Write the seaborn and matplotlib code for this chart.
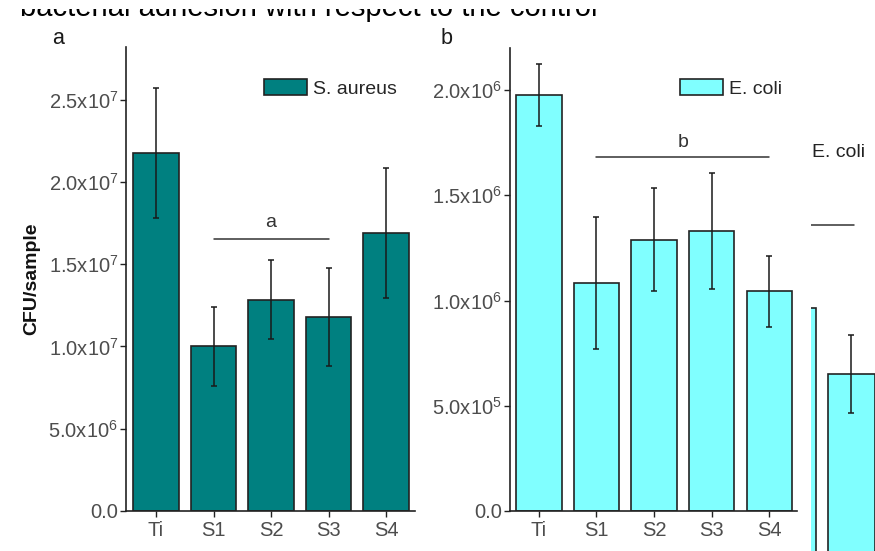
import matplotlib
matplotlib.use("Agg")
import matplotlib.pyplot as plt
from matplotlib.patches import Patch, Rectangle
import pandas as pd
import seaborn as sns

sns.set_theme(style="ticks")
plt.rcParams["font.family"] = ["Liberation Sans", "DejaVu Sans"]
plt.rcParams["mathtext.fontset"] = "custom"
plt.rcParams["mathtext.rm"] = "Liberation Sans"
plt.rcParams["mathtext.it"] = "Liberation Sans:italic"

# --- data ---
categories = ["Ti", "S1", "S2", "S3", "S4"]
aureus_mean = [2.175e7, 1.0e7, 1.284e7, 1.179e7, 1.691e7]
aureus_sd = [3.95e6, 2.4e6, 2.4e6, 2.95e6, 3.96e6]
ecoli_mean = [1.976e6, 1.084e6, 1.290e6, 1.329e6, 1.044e6]
ecoli_sd = [0.147e6, 0.313e6, 0.245e6, 0.276e6, 0.169e6]

# partial third panel cut off at the right edge
c_categories = ["Ti", "S1"]
c_mean = [1.286e6, 0.996e6]
c_sd = [0.15e6, 0.172e6]

a_ticks = [0, 5e6, 1e7, 1.5e7, 2e7, 2.5e7]
a_ticklabels = ["0.0", r"5.0x10$^6$", r"1.0x10$^7$", r"1.5x10$^7$", r"2.0x10$^7$", r"2.5x10$^7$"]
b_ticks = [0, 5e5, 1e6, 1.5e6, 2e6]
b_ticklabels = ["0.0", r"5.0x10$^5$", r"1.0x10$^6$", r"1.5x10$^6$", r"2.0x10$^6$"]

TEAL = "#008080"
CYAN = "#80FFFF"
EDGE = "#222222"
TICK_COL = "#4D4D4D"

fig = plt.figure(figsize=(8.75, 5.51), dpi=100)


def px_axes(x0, x1, y_top, y_bot):
    return fig.add_axes([x0 / 875, 1 - y_bot / 551, (x1 - x0) / 875, (y_bot - y_top) / 551])


def draw_panel(ax, mean, sd, color, ticks, ticklabels, ylim, xlim):
    df = pd.DataFrame({"sample": categories, "cfu": mean})
    sns.barplot(data=df, x="sample", y="cfu", color=color, saturation=1,
                edgecolor=EDGE, linewidth=1.2, width=0.79, ax=ax)
    ax.errorbar(x=range(len(categories)), y=mean, yerr=sd, fmt="none",
                ecolor="#1a1a1a", elinewidth=1.1, capsize=2.5, capthick=1.1)
    ax.set_ylim(*ylim)
    ax.set_xlim(*xlim)
    ax.set_yticks(ticks)
    ax.set_yticklabels(ticklabels)
    ax.set_xlabel("")
    ax.set_ylabel("")
    ax.tick_params(axis="y", labelsize=14.5, colors="#222222", labelcolor=TICK_COL,
                   length=4, width=1, direction="out", pad=1.5)
    ax.tick_params(axis="x", labelsize=14.5, colors="#222222", labelcolor=TICK_COL,
                   length=4, width=1, direction="out")
    sns.despine(ax=ax)
    for s in ["left", "bottom"]:
        ax.spines[s].set_color("#222222")
        ax.spines[s].set_linewidth(1.2)
    return Patch(facecolor=color, edgecolor=EDGE, linewidth=1.2)


# --- a: S. aureus ---
ax_a = px_axes(126, 415, 47, 511)
h_a = draw_panel(ax_a, aureus_mean, aureus_sd, TEAL, a_ticks, a_ticklabels,
                 (0, 2.82e7), (-0.52, 4.5))
ax_a.legend([h_a], ["S. aureus"], loc="upper left", bbox_to_anchor=(0.4775, 0.931),
            frameon=False, fontsize=14, handlelength=2.2, handleheight=0.9,
            borderpad=0, borderaxespad=0, handletextpad=0.3)
ax_a.plot([1, 3], [1.655e7, 1.655e7], color="#333333", lw=1.1)
ax_a.text(2, 1.725e7, "a", ha="center", va="baseline", fontsize=14, color="#333333")
ax_a.set_ylabel("CFU/sample", fontsize=14, fontweight="bold", color="#111111", labelpad=6)

# --- b: E. coli ---
ax_b = px_axes(510, 797, 48, 511)
h_b = draw_panel(ax_b, ecoli_mean, ecoli_sd, CYAN, b_ticks, b_ticklabels,
                 (0, 2.2e6), (-0.5, 4.48))
ax_b.legend([h_b], ["E. coli"], loc="upper left", bbox_to_anchor=(0.592, 0.933),
            frameon=False, fontsize=14, handlelength=2.2, handleheight=0.9,
            borderpad=0, borderaxespad=0, handletextpad=0.3)
ax_b.plot([1, 4], [1.684e6, 1.684e6], color="#333333", lw=1.1)
ax_b.text(2.5, 1.73e6, "b", ha="center", va="baseline", fontsize=14, color="#333333")

# --- c: partial panel cropped at the right edge ---
ax_c = px_axes(811, 1011, 100, 600)
df_c = pd.DataFrame({"sample": c_categories, "cfu": c_mean})
sns.barplot(data=df_c, x="sample", y="cfu", color=CYAN, saturation=1,
            edgecolor=EDGE, linewidth=1.2, width=0.79, ax=ax_c)
ax_c.errorbar(x=range(len(c_categories)), y=c_mean, yerr=c_sd, fmt="none",
              ecolor="#1a1a1a", elinewidth=1.1, capsize=2.5, capthick=1.1)
ax_c.set_xlim(0.308, 3.73)
ax_c.set_ylim(0, 2.2e6)
ax_c.plot([0, 1.05], [1.648e6, 1.648e6], color="#333333", lw=1.1)
ax_c.text(0.33, 1.97e6, "E. coli", ha="left", va="center", fontsize=14, color="#222222")
ax_c.axis("off")

# panel letters
fig.text(58 / 875, 1 - 38 / 551, "a", fontsize=15.5, color="#1a1a1a", ha="center", va="center")
fig.text(447 / 875, 1 - 38 / 551, "b", fontsize=15.5, color="#1a1a1a", ha="center", va="center")

# caption line of the source page, cropped by the top edge of the screenshot
fig.text(20 / 875, 1 - 15.5 / 551, "bacterial adhesion with respect to the control",
         fontsize=21, ha="left", va="baseline", color="black")
fig.patches.append(Rectangle((0, 1 - 9 / 551), 1, 9 / 551, transform=fig.transFigure,
                             facecolor="white", edgecolor="none", zorder=10))

fig.savefig("out.png", dpi=100)
plt.close(fig)
